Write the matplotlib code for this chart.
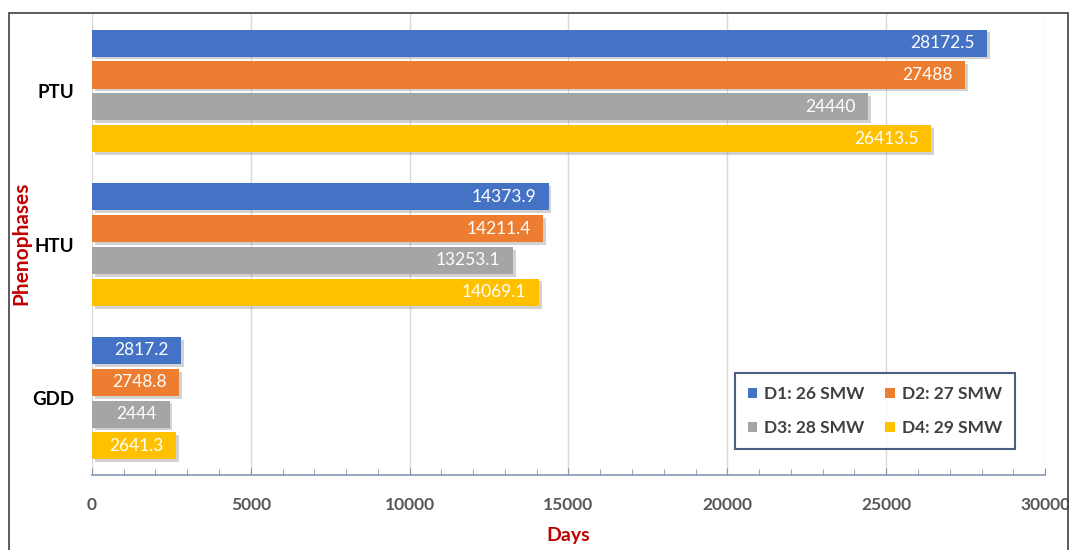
import numpy as np
import matplotlib
matplotlib.use('Agg')
import matplotlib.pyplot as plt
import matplotlib.patheffects as pe
from matplotlib.patches import Rectangle

# ── data ────────────────────────────────────────────────
categories = ['PTU', 'HTU', 'GDD']          # top to bottom
series     = ['D1: 26 SMW', 'D2: 27 SMW', 'D3: 28 SMW', 'D4: 29 SMW']
d1_values  = [28172.5, 14373.9, 2817.2]
d2_values  = [27488, 14211.4, 2748.8]
d3_values  = [24440, 13253.1, 2444]
d4_values  = [26413.5, 14069.1, 2641.3]
d1_labels  = ['28172.5', '14373.9', '2817.2']
d2_labels  = ['27488', '14211.4', '2748.8']
d3_labels  = ['24440', '13253.1', '2444']
d4_labels  = ['26413.5', '14069.1', '2641.3']

colors = ['#4472C4', '#ED7D31', '#A5A5A5', '#FFC000']

plt.rcParams['font.family'] = ['Lato', 'DejaVu Sans']

fig = plt.figure(figsize=(10.69, 5.5), dpi=100)
ax = fig.add_axes([0.086, 0.1364, 0.8916, 0.838])

values = [d1_values, d2_values, d3_values, d4_values]
labels = [d1_labels, d2_labels, d3_labels, d4_labels]
centers = np.array([2, 1, 0], dtype=float)
pitch = 0.207
bar_h = 0.176
shadow = [pe.SimplePatchShadow(offset=(2, -2), alpha=0.35, shadow_rgbFace='#7f7f7f'), pe.Normal()]

handles = []
for i, (vals, labs, col, name) in enumerate(zip(values, labels, colors, series)):
    y = centers + (1.5 - i) * pitch
    bars = ax.barh(y, vals, height=bar_h, color=col, label=name, zorder=3)
    for b in bars:
        b.set_path_effects(shadow)
    for yy, v, t in zip(y, vals, labs):
        ax.text(v - 400, yy, t, ha='right', va='center', color='white',
                fontsize=12.5, zorder=4)
    handles.append(bars)

ax.set_xlim(0, 30000)
ax.set_ylim(-0.5, 2.5)
ax.set_xticks(np.arange(0, 30001, 5000))
ax.set_xticks(np.arange(0, 30001, 1000), minor=True)
ax.set_yticks(centers)
ax.set_yticklabels(categories, fontsize=13.5, fontweight='bold', color='black')
ax.tick_params(axis='y', length=0, pad=13)
ax.tick_params(axis='x', which='major', direction='in', length=5, color='#8497B0',
               labelsize=12.5, labelcolor='#595959', pad=16)
ax.tick_params(axis='x', which='minor', direction='in', length=4, color='#8497B0')
for lab in ax.get_xticklabels():
    lab.set_fontweight('bold')

ax.grid(axis='x', color='#D9D9D9', linewidth=1, zorder=0)
for s in ['top', 'right', 'left']:
    ax.spines[s].set_visible(False)
ax.spines['bottom'].set_color('#8497B0')
ax.spines['bottom'].set_linewidth(1.2)

ax.set_xlabel('Days', fontsize=14, fontweight='bold', color='#C00000')
ax.xaxis.set_label_coords(0.5, -0.112)
ax.set_ylabel('Phenophases', fontsize=15, fontweight='bold', color='#C00000')
ax.yaxis.set_label_coords(-0.064, 0.503)

order = [handles[0], handles[2], handles[1], handles[3]]
names = [series[0], series[2], series[1], series[3]]
leg = ax.legend(order, names, ncol=2, loc='lower right', bbox_to_anchor=(0.9685, 0.056),
                frameon=True, fancybox=False, handlelength=0.55,
                handleheight=0.55, handletextpad=0.4, columnspacing=1.2,
                borderpad=0.75, labelspacing=1.05, borderaxespad=0,
                prop={'weight': 'bold', 'size': 12.5})
leg.get_frame().set_edgecolor('#1F3864')
leg.get_frame().set_linewidth(1.5)
for t in leg.get_texts():
    t.set_color('#404040')
for h in leg.legend_handles:
    h.set_path_effects([])

# outer border of the chart area
fig.patches.append(Rectangle((9 / 1069, -0.05), 1059 / 1069, 1.05 - 13 / 550,
                             transform=fig.transFigure, fill=False,
                             edgecolor='#404040', linewidth=1.2))

fig.savefig('out.png', dpi=100)
